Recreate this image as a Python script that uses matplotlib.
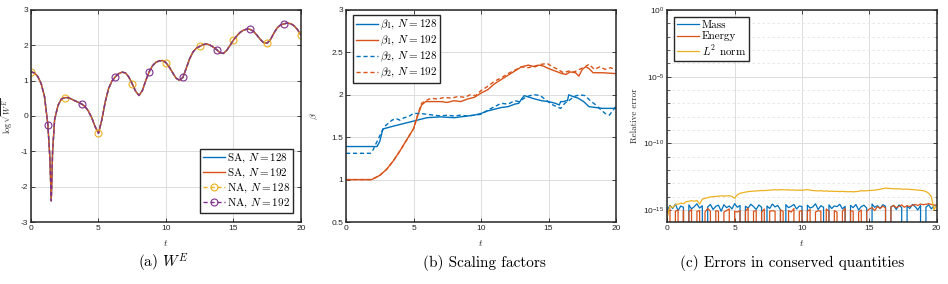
import numpy as np
import matplotlib
matplotlib.use("Agg")
import matplotlib.pyplot as plt
from matplotlib.ticker import FixedLocator, LogFormatterSciNotation, NullFormatter

# ---- (a) log sqrt(W^E) ----
t_we = [0, 0.25, 0.5, 0.75, 1.0, 1.25, 1.4, 1.5, 1.6, 1.75, 2.0, 2.25, 2.5, 2.75,
        3.0, 3.25, 3.5, 3.75, 4.0, 4.25, 4.5, 4.75, 5.0, 5.25, 5.5, 5.75, 6.0,
        6.25, 6.5, 6.75, 7.0, 7.25, 7.5, 7.75, 8.0, 8.25, 8.5, 8.75, 9.0, 9.25,
        9.5, 9.75, 10.0, 10.25, 10.5, 10.75, 11.0, 11.25, 11.5, 11.75, 12.0,
        12.25, 12.5, 12.75, 13.0, 13.25, 13.5, 13.75, 14.0, 14.25, 14.5, 14.75,
        15.0, 15.25, 15.5, 15.75, 16.0, 16.25, 16.5, 16.75, 17.0, 17.25, 17.5,
        17.75, 18.0, 18.25, 18.5, 18.75, 19.0, 19.25, 19.5, 19.75, 20.0]
we_vals = [1.25, 1.22, 1.12, 0.92, 0.55, -0.25, -1.2, -2.4, -1.0, -0.1, 0.3, 0.48,
           0.52, 0.52, 0.48, 0.43, 0.39, 0.34, 0.27, 0.14, -0.05, -0.3, -0.49,
           -0.1, 0.4, 0.78, 0.99, 1.11, 1.2, 1.24, 1.22, 1.1, 0.91, 0.7, 0.58,
           0.72, 1.0, 1.25, 1.42, 1.52, 1.56, 1.57, 1.51, 1.38, 1.22, 1.07, 1.01,
           1.09, 1.35, 1.62, 1.81, 1.92, 1.97, 2.02, 2.04, 2.01, 1.95, 1.88, 1.79,
           1.77, 1.86, 2.0, 2.15, 2.27, 2.37, 2.43, 2.46, 2.45, 2.39, 2.28, 2.16,
           2.07, 2.06, 2.17, 2.35, 2.5, 2.58, 2.61, 2.63, 2.61, 2.55, 2.44, 2.29]
marks_na128 = [0, 2.5, 5, 7.5, 10, 12.5, 15, 17.5, 20]
marks_na192 = [1.25, 3.75, 6.25, 8.75, 11.25, 13.75, 16.25, 18.75]

# ---- (b) scaling factors ----
t_b1_128 = [0, 2.3, 2.5, 2.7, 2.8, 3.5, 4, 5, 6, 7, 8, 9, 9.5, 10, 10.5, 11, 11.5,
            12, 12.5, 12.8, 13.0, 13.2, 13.6, 14, 14.5, 15, 15.5, 15.8, 15.9, 16.1,
            16.3, 16.4, 16.5, 16.8, 17.2, 17.6, 18, 18.5, 19, 19.5, 20]
b1_128 = [1.39, 1.39, 1.45, 1.58, 1.60, 1.63, 1.65, 1.69, 1.73, 1.74, 1.73, 1.75,
          1.76, 1.78, 1.81, 1.83, 1.85, 1.86, 1.89, 1.90, 1.95, 1.99, 1.97, 1.95,
          1.93, 1.92, 1.90, 1.88, 1.92, 1.92, 1.93, 1.93, 2.0, 1.98, 1.96, 1.92,
          1.86, 1.85, 1.84, 1.84, 1.84]
t_b2_128 = [0, 1.8, 2.0, 2.3, 2.6, 2.8, 3.1, 3.4, 3.7, 4.0, 4.3, 4.6, 5.0, 5.5, 6.0,
            6.5, 7.0, 7.5, 8.0, 8.5, 9.0, 9.5, 10, 10.5, 11, 11.5, 12, 12.5, 12.8,
            13.2, 13.6, 14.0, 14.4, 14.8, 15.2, 15.6, 15.9, 16.2, 16.5, 16.9, 17.3,
            17.7, 18.1, 18.5, 18.9, 19.2, 19.5, 19.8, 20]
b2_128 = [1.31, 1.31, 1.35, 1.45, 1.55, 1.62, 1.66, 1.70, 1.72, 1.70, 1.73, 1.74,
          1.78, 1.78, 1.77, 1.76, 1.75, 1.76, 1.75, 1.76, 1.75, 1.76, 1.77, 1.82,
          1.86, 1.90, 1.89, 1.93, 1.92, 1.96, 1.99, 2.00, 1.99, 1.94, 1.89, 1.86,
          1.84, 1.90, 1.93, 1.98, 2.00, 1.99, 1.93, 1.88, 1.82, 1.78, 1.76, 1.82,
          1.87]
t_b1_192 = [0, 1.9, 2.5, 3, 3.5, 4, 4.5, 5, 5.3, 5.6, 5.9, 6.5, 7, 7.5, 8, 8.5, 9,
            9.5, 10, 10.5, 11, 11.5, 12, 12.5, 13, 13.5, 14, 14.3, 14.6, 15, 15.5,
            16, 16.3, 16.6, 17, 17.25, 17.5, 17.75, 18, 18.3, 19, 20]
b1_192 = [1.0, 1.0, 1.05, 1.12, 1.22, 1.34, 1.47, 1.60, 1.75, 1.88, 1.92, 1.92,
          1.92, 1.91, 1.93, 1.92, 1.95, 1.97, 2.02, 2.06, 2.13, 2.18, 2.23, 2.28,
          2.33, 2.35, 2.33, 2.35, 2.34, 2.31, 2.28, 2.25, 2.24, 2.27, 2.26, 2.22,
          2.30, 2.33, 2.31, 2.26, 2.26, 2.25]
t_b2_192 = [0, 1.9, 2.5, 3, 3.5, 4, 4.5, 5, 5.3, 5.6, 5.9, 6.3, 6.8, 7.3, 7.8, 8.3,
            8.8, 9.2, 9.6, 10, 10.5, 11, 11.5, 12, 12.5, 13, 13.5, 14, 14.5, 14.9,
            15.3, 15.7, 16.1, 16.5, 16.9, 17.3, 17.7, 18.0, 18.4, 18.8, 19.2, 19.6, 20]
b2_192 = [1.0, 1.0, 1.05, 1.12, 1.22, 1.34, 1.47, 1.60, 1.76, 1.90, 1.93, 1.96,
          1.95, 1.97, 1.96, 1.98, 1.97, 2.0, 1.99, 2.05, 2.10, 2.16, 2.20, 2.25,
          2.29, 2.33, 2.32, 2.34, 2.36, 2.37, 2.33, 2.30, 2.26, 2.28, 2.27, 2.30,
          2.33, 2.36, 2.30, 2.33, 2.30, 2.32, 2.29]

# ---- (c) relative errors, in units of 1e-15 (0 = below the axis) ----
t_err = np.linspace(0, 20, 101)
mass_err = [1.0, 2.2, 1.3, 2.8, 0.9, 2.0, 1.6, 0.0, 2.4, 1.2, 1.8, 2.9, 1.4, 2.1, 0.0, 1.7, 2.6, 1.1, 1.9, 2.3,
            0.8, 2.5, 1.5, 2.0, 1.2, 3.0, 1.6, 2.2, 0.0, 1.9, 1.4, 2.7, 1.8, 1.1, 2.4, 1.6, 0.0, 2.0, 1.3, 2.8,
            1.7, 2.2, 1.0, 0.0, 2.5, 1.5, 1.9, 2.6, 1.2, 2.0, 1.8, 0.0, 2.3, 1.4, 1.7, 2.9, 1.1, 2.1, 1.6, 0.0,
            2.4, 1.3, 2.0, 1.8, 2.7, 1.2, 1.9, 0.0, 2.2, 1.5, 2.6, 1.0, 1.8, 2.3, 1.4, 0.0, 2.8, 1.6, 2.1, 1.3,
            2.5, 1.9, 0.0, 1.7, 2.2, 1.1, 2.4, 1.5, 0.0, 2.0, 1.3, 2.6, 1.8, 1.0, 2.2, 0.0, 1.6, 2.5, 1.2, 2.1, 2.3]
energy_err = [0.6, 1.2, 0.0, 0.8, 1.0, 0.0, 0.9, 0.0, 0.7, 1.1, 0.0, 0.8, 0.9, 0.0, 0.7, 1.3, 0.8, 0.0, 0.9, 0.8,
              0.0, 0.7, 0.9, 1.2, 0.0, 0.8, 0.7, 0.9, 0.0, 0.8, 1.4, 0.0, 0.8, 0.9, 0.0, 0.7, 1.2, 0.0, 0.8, 0.9,
              0.8, 0.0, 1.0, 0.8, 0.0, 0.9, 0.7, 1.3, 0.0, 0.8, 0.9, 0.0, 0.8, 1.1, 0.0, 0.7, 0.9, 0.8, 0.0, 1.2,
              0.8, 0.0, 0.9, 0.7, 0.0, 0.8, 1.3, 0.0, 0.9, 0.8, 0.0, 0.7, 1.0, 0.0, 0.8, 1.2, 1.5, 0.9, 1.8, 1.3,
              2.0, 1.4, 0.0, 1.7, 2.2, 1.5, 1.9, 2.4, 1.6, 2.1, 1.8, 2.3, 2.6, 2.2, 2.8, 2.5, 2.7, 3.0, 2.6, 2.4, 2.2]
l2_err = [0.3, 2.0, 1.5, 2.6, 2.8, 3.2, 3.0, 4.2, 4.5, 5.0, 4.6, 5.2, 2.8, 6.5, 7.5, 8.5, 9.5, 10.0, 10.5, 11.0,
          11.5, 11.0, 11.5, 11.8, 10.5, 7.5, 14.0, 18.0, 20.0, 22.0, 24.0, 25.0, 26.0, 27.0, 28.0, 29.0, 28.5, 30.0, 31.0, 32.0,
          33.0, 32.0, 34.0, 33.0, 32.0, 33.0, 31.0, 32.0, 30.0, 31.0, 30.0, 32.0, 34.0, 31.0, 29.0, 28.0, 27.0, 28.0, 26.0, 27.0,
          25.0, 26.0, 24.5, 25.0, 24.0, 25.0, 24.0, 23.5, 24.0, 23.0, 24.0, 25.0, 28.0, 27.0, 28.0, 29.0, 30.0, 31.0, 33.0, 36.0,
          40.0, 44.0, 42.0, 41.0, 39.0, 38.0, 39.0, 37.0, 36.0, 37.0, 35.0, 34.0, 33.0, 31.0, 30.0, 28.0, 24.0, 18.0, 10.0, 1.0, 2.5]

BLUE = "#0072BD"
ORANGE = "#D95319"
YELLOW = "#EDB120"
PURPLE = "#7E2F8E"
DARK = "#262626"
SERIF = "cmr10"

plt.rcParams["mathtext.fontset"] = "cm"
plt.rcParams["font.family"] = ["Liberation Sans", "DejaVu Sans"]
plt.rcParams["axes.unicode_minus"] = False


def style_axes(ax, xlim, ylim):
    """MATLAB-like box, inward ticks on all sides, light grid."""
    ax.set_xlim(*xlim)
    ax.set_ylim(*ylim)
    for sp in ax.spines.values():
        sp.set_color(DARK)
        sp.set_linewidth(1.1)
    ax.tick_params(direction="in", top=True, right=True, length=3, width=0.6,
                   colors=DARK, labelsize=6, pad=2)
    ax.grid(True, color="#dcdcdc", linewidth=0.7)
    ax.set_axisbelow(True)
    ax.set_xticks([0, 5, 10, 15, 20])
    ax.set_xlabel("$t$", fontsize=7, color=DARK)
    ax.xaxis.set_label_coords(0.5, -0.075)


def make_legend(ax, loc, anchor):
    leg = ax.legend(loc=loc, bbox_to_anchor=anchor, borderaxespad=0,
                    fancybox=False, framealpha=1, edgecolor=DARK,
                    prop={"family": SERIF, "size": 8}, handlelength=2.0,
                    handletextpad=0.2, labelspacing=0.15, borderpad=0.25,
                    numpoints=1)
    leg.get_frame().set_linewidth(1.0)
    return leg


def plot_we(ax):
    t = np.array(t_we)
    i128 = np.where(np.isin(t, marks_na128))[0]
    i192 = np.where(np.isin(t, marks_na192))[0]
    ax.plot(t, we_vals, color=BLUE, lw=1.0, label="SA, $N=128$")
    ax.plot(t, we_vals, color=ORANGE, lw=1.0, label="SA, $N=192$")
    ax.plot(t, we_vals, color=YELLOW, lw=1.0, ls=(0, (3, 2)), marker="o", ms=5,
            mfc="none", mew=0.8, markevery=list(i128), label="NA, $N=128$")
    ax.plot(t, we_vals, color=PURPLE, lw=1.0, ls=(0, (3, 2)), marker="o", ms=5,
            mfc="none", mew=0.8, markevery=list(i192), label="NA, $N=192$")
    style_axes(ax, (0, 20), (-3, 3))
    ax.set_yticks(range(-3, 4))
    ax.set_ylabel(r"$\log\sqrt{W^E}$", fontsize=6, color=DARK)
    ax.yaxis.set_label_coords(-0.058, 0.5)
    make_legend(ax, "lower right", (0.97, 0.042))


def plot_beta(ax):
    ax.plot(t_b1_128, b1_128, color=BLUE, lw=1.0, label=r"$\beta_1$, $N=128$")
    ax.plot(t_b1_192, b1_192, color=ORANGE, lw=1.0, label=r"$\beta_1$, $N=192$")
    ax.plot(t_b2_128, b2_128, color=BLUE, lw=1.0, ls=(0, (3, 2)), label=r"$\beta_2$, $N=128$")
    ax.plot(t_b2_192, b2_192, color=ORANGE, lw=1.0, ls=(0, (3, 2)), label=r"$\beta_2$, $N=192$")
    style_axes(ax, (0, 20), (0.5, 3))
    ax.set_yticks([0.5, 1, 1.5, 2, 2.5, 3])
    ax.set_yticklabels(["0.5", "1", "1.5", "2", "2.5", "3"])
    ax.set_ylabel(r"$\beta$", fontsize=7, color=DARK)
    ax.yaxis.set_label_coords(-0.095, 0.5)
    make_legend(ax, "upper left", (0.025, 0.976))


def plot_errors(ax):
    ax.set_yscale("log")
    ax.plot(t_err, np.array(mass_err) * 1e-15, color=BLUE, lw=0.9, label="Mass")
    ax.plot(t_err, np.array(energy_err) * 1e-15, color=ORANGE, lw=0.9, label="Energy")
    ax.plot(t_err, np.array(l2_err) * 1e-15, color=YELLOW, lw=0.9, label="$L^2$ norm")
    style_axes(ax, (0, 20), (10 ** -15.9, 1))
    ax.yaxis.set_major_locator(FixedLocator([1e-15, 1e-10, 1e-5, 1]))
    ax.yaxis.set_major_formatter(LogFormatterSciNotation())
    minors = [10.0 ** k for k in range(-15, 0) if k % 5 != 0]
    ax.yaxis.set_minor_locator(FixedLocator(minors))
    ax.yaxis.set_minor_formatter(NullFormatter())
    ax.xaxis.set_minor_formatter(NullFormatter())
    ax.tick_params(axis="y", which="minor", direction="in", right=True,
                   length=1.8, width=0.5, colors=DARK)
    ax.grid(True, which="minor", axis="y", color="#e4e4e4", linewidth=0.6,
            linestyle=(0, (3, 3)))
    ax.set_ylabel("Relative error", fontsize=6.5, color=DARK, family=SERIF)
    ax.yaxis.set_label_coords(-0.105, 0.5)
    make_legend(ax, "upper left", (0.026, 0.966))


def main():
    fig = plt.figure(figsize=(9.48, 2.84), dpi=100)
    bottom, height, width = 0.2183, 0.7465, 0.2848
    ax_a = fig.add_axes([0.0327, bottom, width, height])
    ax_b = fig.add_axes([0.3650, bottom, width, height])
    ax_c = fig.add_axes([0.7039, bottom, 0.2842, height])

    plot_we(ax_a)
    plot_beta(ax_b)
    plot_errors(ax_c)

    cap = dict(fontsize=11, family=SERIF, ha="center", va="center", color="black")
    fig.text(0.173, 0.074, "(a) $W^E$", **cap)
    fig.text(0.5105, 0.074, "(b) Scaling factors", **cap)
    fig.text(0.836, 0.074, "(c) Errors in conserved quantities", **cap)

    fig.savefig("out.png", dpi=100)


if __name__ == "__main__":
    main()
